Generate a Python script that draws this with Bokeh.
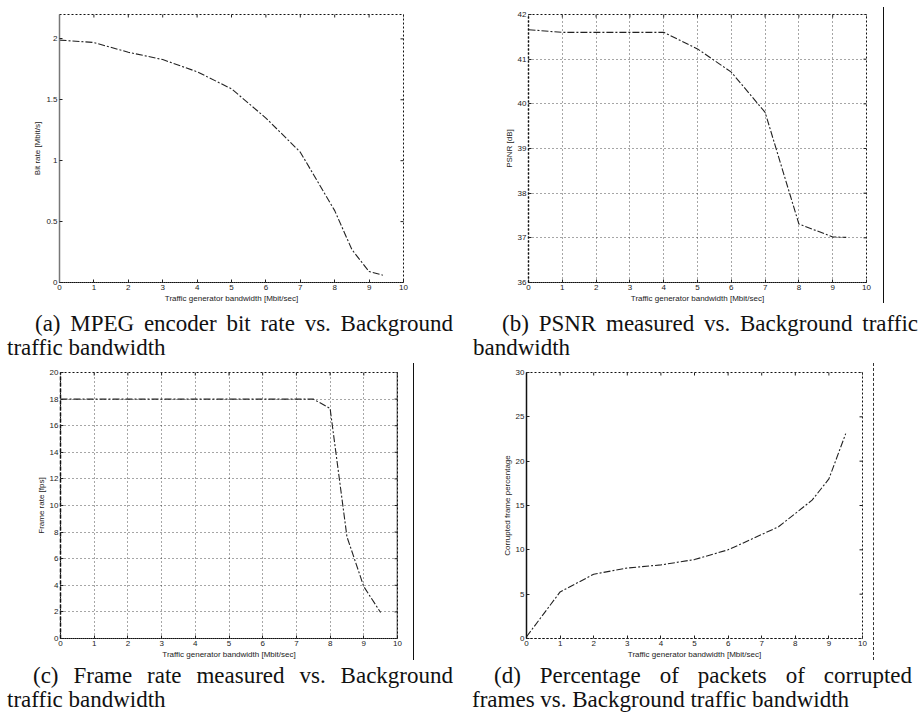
import math
from bokeh.plotting import figure
from bokeh.models import Range1d, FixedTicker, Div, Spacer, Span
from bokeh.layouts import row, column
from bokeh.embed import file_html
from bokeh.resources import INLINE

# ---------------- data ----------------
x_ticks = [0, 1, 2, 3, 4, 5, 6, 7, 8, 9, 10]
x_tick_labels = ["0", "1", "2", "3", "4", "5", "6", "7", "8", "9", "10"]
x_label = "Traffic generator bandwidth [Mbit/sec]"

# (a) MPEG encoder bit rate
a_x = [0, 1, 2, 3, 4, 5, 6, 7, 8, 8.5, 9, 9.4]
a_y = [1.99, 1.97, 1.89, 1.83, 1.73, 1.59, 1.35, 1.07, 0.59, 0.27, 0.09, 0.06]
a_yticks = [0, 0.5, 1, 1.5, 2]
a_ytick_labels = ["0", "0.5", "1", "1.5", "2"]
a_ylabel = "Bit rate [Mbit/s]"

# (b) PSNR
b_x = [0, 1, 4, 5, 6, 7, 8, 9, 9.4]
b_y = [41.66, 41.6, 41.6, 41.23, 40.71, 39.81, 37.31, 37.02, 37.01]
b_yticks = [36, 37, 38, 39, 40, 41, 42]
b_ytick_labels = ["36", "37", "38", "39", "40", "41", "42"]
b_ylabel = "PSNR [dB]"

# (c) Frame rate
c_x = [0, 7.5, 8, 8.5, 9, 9.5]
c_y = [18, 18, 17.3, 7.65, 3.9, 1.95]
c_yticks = [0, 2, 4, 6, 8, 10, 12, 14, 16, 18, 20]
c_ytick_labels = ["0", "2", "4", "6", "8", "10", "12", "14", "16", "18", "20"]
c_ylabel = "Frame rate [fps]"

# (d) Corrupted frame percentage
d_x = [0, 1, 2, 3, 4, 5, 6, 7.5, 8.5, 9, 9.5]
d_y = [0.2, 5.25, 7.25, 7.95, 8.3, 8.9, 10.0, 12.6, 15.6, 18.0, 23.1]
d_yticks = [0, 5, 10, 15, 20, 25, 30]
d_ytick_labels = ["0", "5", "10", "15", "20", "25", "30"]
d_ylabel = "Corrupted frame percentage"

captions = [
    "(a) MPEG encoder bit rate vs. Background traffic bandwidth",
    "(b) PSNR measured vs. Background traffic bandwidth",
    "(c) Frame rate measured vs. Background traffic bandwidth",
    "(d) Percentage of packets of corrupted frames vs. Background traffic bandwidth",
]

SANS = "Liberation Sans"
SERIF = "Liberation Serif"
X_MAX = 10


def make_plot(xs, ys, yr, yticks, ylabels, ylabel, w, h, bl, br, bt, bb,
              grid=False, left_dash="solid", left_color="#222", right_solid=False,
              line_dash="7 2 2 2"):
    p = figure(output_backend="svg", toolbar_location=None,
               width=w, height=h,
               min_border_left=bl, min_border_right=br,
               min_border_top=bt, min_border_bottom=bb,
               x_range=Range1d(0, X_MAX), y_range=Range1d(*yr))
    p.outline_line_color = "#111"
    p.outline_line_dash = "2 2"
    p.outline_line_width = 1
    p.background_fill_color = "white"
    p.border_fill_color = "white"

    xa = p.xaxis[0]
    xa.ticker = FixedTicker(ticks=x_ticks)
    xa.major_label_overrides = {t: l for t, l in zip(x_ticks, x_tick_labels)}
    xa.axis_label = x_label
    ya = p.yaxis[0]
    ya.ticker = FixedTicker(ticks=yticks)
    ya.major_label_overrides = {t: l for t, l in zip(yticks, ylabels)}
    ya.axis_label = ylabel

    for ax in (xa, ya):
        ax.major_tick_in = 3
        ax.major_tick_out = 0
        ax.minor_tick_line_color = None
        ax.major_tick_line_color = "#222"
        ax.major_label_text_font = SANS
        ax.major_label_text_font_size = "8px"
        ax.major_label_text_color = "#222"
        ax.axis_label_text_font = SANS
        ax.axis_label_text_font_size = "8px"
        ax.axis_label_text_font_style = "normal"
        ax.axis_label_text_color = "#222"
        ax.major_label_standoff = 2
        ax.axis_label_standoff = 1
    xa.axis_line_dash = "2 2"
    xa.axis_line_color = "#111"
    ya.axis_line_dash = left_dash
    ya.axis_line_color = left_color
    ya.axis_line_width = 1.5

    if right_solid:
        p.add_layout(Span(location=X_MAX, dimension="height",
                          line_color="#111", line_width=1.5))

    # inward ticks on the top and right edges of the box
    p.scatter(x_ticks, [yr[1]] * len(x_ticks), marker="dash", angle=math.pi / 2,
              size=6, line_color="#222", line_width=1)
    p.scatter([X_MAX] * len(yticks), yticks, marker="dash", size=6,
              line_color="#222", line_width=1)

    if grid:
        for g in (p.xgrid, p.ygrid):
            g.grid_line_color = "#222"
            g.grid_line_dash = "1 3"
            g.grid_line_alpha = 0.8
    else:
        p.xgrid.grid_line_color = None
        p.ygrid.grid_line_color = None

    p.line(xs, ys, line_color="#222", line_width=1.1, line_dash=line_dash)
    return p


def caption_div(txt, width, height, indent):
    html = ('<div style="font-family:\'%s\';font-size:23px;line-height:24px;'
            'text-align:justify;text-indent:%dpx;color:#111;margin:0;padding:0;'
            'width:%dpx;">%s</div>' % (SERIF, indent, width, txt))
    return Div(text=html, width=width, height=height, margin=0)


def vline_div(width, height, top, left, style):
    html = ('<div style="margin-top:%dpx;margin-left:%dpx;width:0;'
            'height:%dpx;border-left:%s;"></div>' % (top, left, height, style))
    return Div(text=html, width=width, height=height + top, margin=0)


pa = make_plot(a_x, a_y, (0, 2.2), a_yticks, a_ytick_labels, a_ylabel,
               w=460, h=312, bl=59, br=57, bt=12, bb=25, left_color="#777")
pb = make_plot(b_x, b_y, (36, 42), b_yticks, b_ytick_labels, b_ylabel,
               w=420, h=312, bl=68, br=14, bt=14, bb=30, grid=True,
               left_dash="2 2", left_color="#111")
pc = make_plot(c_x, c_y, (0, 20), c_yticks, c_ytick_labels, c_ylabel,
               w=413, h=304, bl=60, br=16, bt=12, bb=26, grid=True,
               left_dash="4 2", left_color="#111", right_solid=True)
pd = make_plot(d_x, d_y, (0, 30), d_yticks, d_ytick_labels, d_ylabel,
               w=413, h=304, bl=66, br=11, bt=12, bb=26, left_color="#111")

lb = vline_div(39, 296, 7, 3, "1.5px solid #111")
lc = vline_div(47, 297, 3, 0, "1.5px solid #111")
ld = vline_div(46, 297, 3, 0, "1.5px dashed #333")

row1 = row(pa, pb, lb)
row2 = row(Spacer(width=7, height=48, margin=0), caption_div(captions[0], 446, 48, 28),
           Spacer(width=20, height=48, margin=0), caption_div(captions[1], 445, 48, 29))
row3 = row(pc, lc, pd, ld)
row4 = row(Spacer(width=7, height=48, margin=0), caption_div(captions[2], 446, 48, 26),
           Spacer(width=19, height=48, margin=0), caption_div(captions[3], 440, 48, 22))

layout = column(row1, row2, row3, row4)

open("out.html", "w").write(file_html(layout, INLINE))
